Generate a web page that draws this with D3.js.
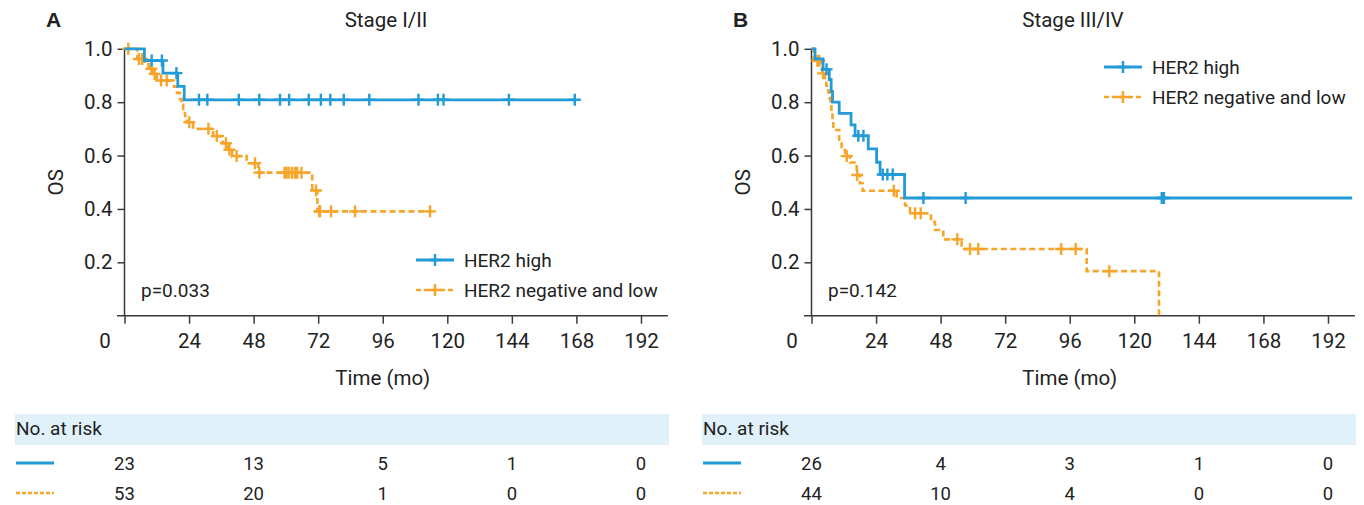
<!DOCTYPE html>
<html><head><meta charset="utf-8">
<script src="https://cdn.jsdelivr.net/npm/d3@7"></script>
<style>
body{margin:0;background:#fff}
svg{display:block}
text{font-family:Roboto,"Liberation Sans",Arial,sans-serif;fill:#222}
</style>
</head><body>
<svg id="chart" width="1364" height="505"></svg>
<script>
// ---------- data ----------
const timeTicks = [0, 24, 48, 72, 96, 120, 144, 168, 192];
const survTicks = [0.2, 0.4, 0.6, 0.8, 1.0];
const riskTimes = [0, 48, 96, 144, 192];
const seriesNames = ["HER2 high", "HER2 negative and low"];
const panelLetters = ["A", "B"];
const panelTitles = ["Stage I/II", "Stage III/IV"];
const pValues = ["p=0.033", "p=0.142"];

// Panel A – HER2 high
const aHighTimes = [0, 7.4, 14.3, 19.8, 22.2];
const aHighSurv  = [1, 0.956, 0.909, 0.859, 0.809];
const aHighEnd = 167.4;
const aHighCensor = [10.1, 13.9, 19.3, 27.7, 30.8, 42.5, 50.1, 57.8, 61.2, 68.5, 73.0, 76.5, 81.5, 91.0, 109.3, 116.5, 118.6, 142.9, 167.4];
// Panel A – HER2 negative and low
const aLowTimes = [0, 4.8, 7.5, 9.0, 10.5, 12.0, 18.4, 19.5, 20.6, 21.2, 21.8, 22.5, 23.2, 25.5, 33.0, 36.5, 38.5, 40.0, 45.4, 49.7, 69.8, 71.7];
const aLowSurv  = [1, 0.962, 0.943, 0.925, 0.906, 0.881, 0.858, 0.835, 0.812, 0.790, 0.768, 0.748, 0.725, 0.700, 0.673, 0.646, 0.622, 0.598, 0.571, 0.536, 0.469, 0.391];
const aLowEnd = 113.6;
const aLowCensor = [1.4, 5.4, 6.6, 10.0, 11.2, 13.6, 15.7, 24.1, 31.2, 34.3, 37.7, 39.0, 41.7, 48.5, 50.1, 59.5, 60.2, 61.0, 62.2, 63.3, 64.2, 65.8, 71.2, 72.4, 72.7, 76.8, 85.7, 113.6];

// Panel B – HER2 high
const bHighTimes = [0, 1.3, 4.3, 6.6, 7.3, 7.8, 10.3, 14.7, 16.2, 21.1, 24.2, 25.5, 34.6];
const bHighSurv  = [1, 0.962, 0.923, 0.885, 0.840, 0.800, 0.758, 0.715, 0.674, 0.625, 0.575, 0.529, 0.441];
const bHighEnd = 201;
const bHighCensor = [5.6, 17.4, 19.3, 26.5, 28.2, 30.2, 41.6, 57.3, 130.2, 131.0];
// Panel B – HER2 negative and low
const bLowTimes = [0, 0.7, 3.5, 4.0, 5.0, 5.5, 6.2, 6.6, 7.0, 7.4, 7.8, 8.1, 10.3, 11.2, 12.5, 14.3, 16.8, 18.0, 19.0, 31.7, 34.8, 36.6, 44.4, 45.9, 49.0, 55.8, 102.3, 129.2];
const bLowSurv  = [1, 0.955, 0.932, 0.908, 0.885, 0.862, 0.839, 0.816, 0.790, 0.764, 0.730, 0.696, 0.659, 0.621, 0.598, 0.574, 0.527, 0.496, 0.468, 0.441, 0.413, 0.384, 0.352, 0.321, 0.286, 0.250, 0.167, 0];
const bLowEnd = 129.2;
const bLowCensor = [2.2, 2.9, 4.3, 13.1, 17.0, 30.6, 38.5, 40.6, 54.2, 58.9, 62.0, 92.8, 98.2, 110.7];

// Numbers at risk
const aRiskHigh = [23, 13, 5, 1, 0];
const aRiskLow  = [53, 20, 1, 0, 0];
const bRiskHigh = [26, 4, 3, 1, 0];
const bRiskLow  = [44, 10, 4, 0, 0];

// ---------- drawing ----------
const BLUE = "#229bd8", ORANGE = "#f7a52a", AXIS = "#3a3a3a";
const svg = d3.select("#chart");

const panels = [
  {ox: 0, high: [aHighTimes, aHighSurv, aHighEnd, aHighCensor], low: [aLowTimes, aLowSurv, aLowEnd, aLowCensor],
   risk: [aRiskHigh, aRiskLow], legend: {x: 416, y: 260}},
  {ox: 687, high: [bHighTimes, bHighSurv, bHighEnd, bHighCensor], low: [bLowTimes, bLowSurv, bLowEnd, bLowCensor],
   risk: [bRiskHigh, bRiskLow], legend: {x: 1104 - 687, y: 67}}
];

function survAt(times, surv, t) {
  let s = surv[0];
  for (let i = 0; i < times.length; i++) if (times[i] <= t) s = surv[i];
  return s;
}

panels.forEach((p, pi) => {
  const g = svg.append("g").attr("transform", `translate(${p.ox},0)`);
  const x = d3.scaleLinear().domain([0, 202]).range([124.5, 124.5 + 202 * 2.69]);
  const y = d3.scaleLinear().domain([0, 1]).range([315.7, 48.8]);

  // panel letter and title
  g.append("text").attr("x", 46).attr("y", 27).attr("font-size", 21).attr("font-weight", "bold")
    .style("font-family", "'Liberation Sans',Arial,sans-serif").text(panelLetters[pi]);
  g.append("text").attr("x", 386).attr("y", 27).attr("text-anchor", "middle").attr("font-size", 20.5).text(panelTitles[pi]);

  // y axis
  const yAxis = g.append("g").attr("transform", `translate(${x(0)},0)`)
    .call(d3.axisLeft(y).tickValues(survTicks).tickFormat(d3.format(".1f")).tickSize(7).tickSizeOuter(0).tickPadding(5));
  yAxis.select(".domain").remove();
  yAxis.selectAll(".tick line").attr("stroke", AXIS).attr("stroke-width", 1.5);
  yAxis.selectAll(".tick text").attr("font-size", 20.5).attr("fill", "#222").style("font-family", "Roboto,'Liberation Sans',Arial,sans-serif");
  g.append("line").attr("x1", x(0)).attr("x2", x(0)).attr("y1", y(1)).attr("y2", y(0))
    .attr("stroke", AXIS).attr("stroke-width", 1.5);

  // x axis
  const xAxis = g.append("g").attr("transform", `translate(0,${y(0)})`)
    .call(d3.axisBottom(x).tickValues(timeTicks).tickSize(8).tickSizeOuter(0).tickPadding(10));
  xAxis.select(".domain").remove();
  xAxis.selectAll(".tick line").attr("stroke", AXIS).attr("stroke-width", 1.5);
  xAxis.selectAll(".tick text").attr("font-size", 20.5).attr("fill", "#222").style("font-family", "Roboto,'Liberation Sans',Arial,sans-serif")
    .attr("dx", d => d === 0 ? -20 : 0);
  g.append("line").attr("x1", 117).attr("x2", x(202)).attr("y1", y(0)).attr("y2", y(0))
    .attr("stroke", AXIS).attr("stroke-width", 1.5);

  // axis titles
  g.append("text").attr("x", x(96)).attr("y", 385).attr("text-anchor", "middle").attr("font-size", 20.5).text("Time (mo)");
  g.append("text").attr("transform", `translate(63,${(y(0) + y(1)) / 2}) rotate(-90)`).attr("text-anchor", "middle")
    .attr("font-size", 20.5).text("OS");

  // p value
  g.append("text").attr("x", 141).attr("y", 297).attr("font-size", 19).text(pValues[pi]);

  // curves
  const line = d3.line().x(d => x(d[0])).y(d => y(d[1]));
  const drawCurve = (series, color, dashed) => {
    const [times, surv, end, censor] = series;
    const pts = [[times[0], surv[0]]];
    for (let i = 1; i < times.length; i++) { pts.push([times[i], surv[i - 1]]); pts.push([times[i], surv[i]]); }
    pts.push([end, surv[surv.length - 1]]);
    g.append("path").attr("d", line(pts)).attr("fill", "none").attr("stroke", color)
      .attr("stroke-width", dashed ? 2.6 : 2.8).attr("stroke-dasharray", dashed ? "6,3.5" : null);
    g.append("g").selectAll("path").data(censor).join("path")
      .attr("d", c => { const cx = x(c), cy = y(survAt(times, surv, c));
        return `M${cx - 6},${cy}H${cx + 6}M${cx},${cy - 6}V${cy + 6}`; })
      .attr("stroke", color).attr("stroke-width", 2.4).attr("fill", "none");
  };
  drawCurve(p.low, ORANGE, true);
  drawCurve(p.high, BLUE, false);

  // legend
  const lg = g.append("g").attr("transform", `translate(${p.legend.x},${p.legend.y})`);
  [[BLUE, false], [ORANGE, true]].forEach(([col, dashed], i) => {
    const yy = i * 30;
    lg.append("line").attr("x1", 0).attr("x2", 38).attr("y1", yy).attr("y2", yy).attr("stroke", col)
      .attr("stroke-width", dashed ? 2.6 : 2.8).attr("stroke-dasharray", dashed ? "5,3" : null);
    lg.append("path").attr("d", `M13,${yy}H25M19,${yy - 6}V${yy + 6}`).attr("stroke", col).attr("stroke-width", 2.4);
    lg.append("text").attr("x", 48).attr("y", yy + 7).attr("font-size", 19).text(seriesNames[i]);
  });

  // risk table
  g.append("rect").attr("x", 15).attr("y", 414).attr("width", 654).attr("height", 31).attr("fill", "#e1f1f9");
  g.append("text").attr("x", 16).attr("y", 435).attr("font-size", 19).text("No. at risk");
  [[BLUE, false], [ORANGE, true]].forEach(([col, dashed], i) => {
    const yy = 463 + i * 30;
    g.append("line").attr("x1", 16).attr("x2", 54).attr("y1", yy).attr("y2", yy).attr("stroke", col)
      .attr("stroke-width", dashed ? 2.4 : 2.8).attr("stroke-dasharray", dashed ? "4,2" : null);
    g.append("g").selectAll("text").data(p.risk[i]).join("text")
      .attr("x", (d, j) => x(riskTimes[j])).attr("y", yy + 7).attr("text-anchor", "middle")
      .attr("font-size", 18.5).text(d => d);
  });
});
</script>
</body></html>
